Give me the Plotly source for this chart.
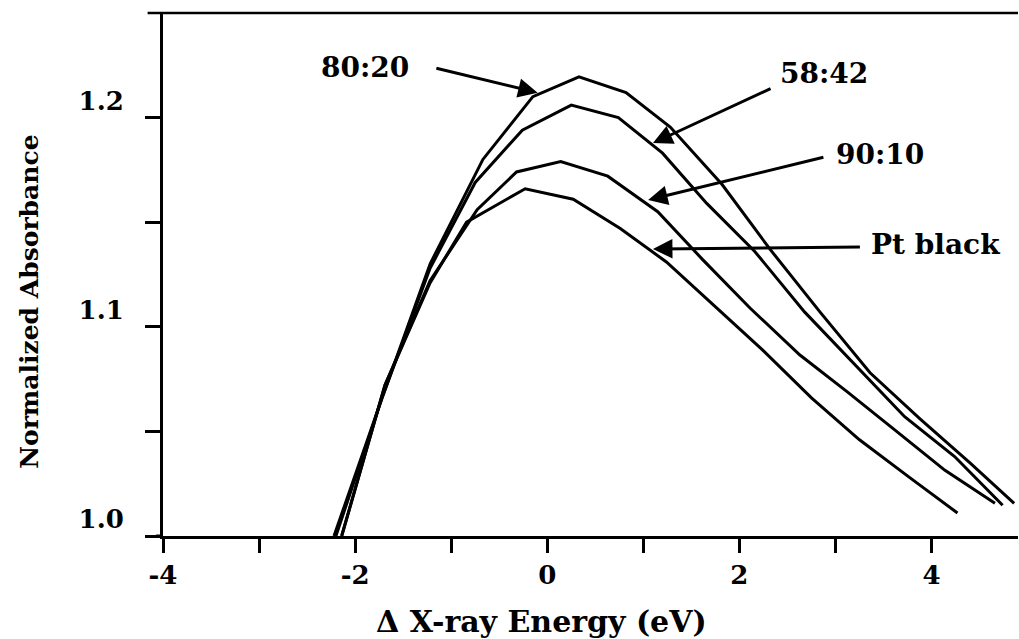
import plotly.graph_objects as go

# Data
x_8020 = [-2.22, -1.72, -1.22, -0.67, -0.15, 0.33, 0.82, 1.28, 1.82, 2.32, 2.84, 3.36, 3.88, 4.40, 4.86]
y_8020 = [1.000, 1.066, 1.130, 1.180, 1.210, 1.2195, 1.212, 1.1955, 1.168, 1.137, 1.107, 1.078, 1.056, 1.035, 1.0156]

x_5842 = [-2.20, -1.72, -1.22, -0.75, -0.26, 0.25, 0.74, 1.20, 1.66, 2.16, 2.68, 3.18, 3.72, 4.24, 4.74]
y_5842 = [1.000, 1.066, 1.128, 1.169, 1.194, 1.206, 1.200, 1.183, 1.159, 1.136, 1.107, 1.083, 1.057, 1.038, 1.0147]

x_9010 = [-2.14, -1.69, -1.22, -0.73, -0.32, 0.14, 0.63, 1.15, 1.62, 2.11, 2.63, 3.12, 3.62, 4.14, 4.66]
y_9010 = [1.000, 1.072, 1.122, 1.156, 1.174, 1.179, 1.172, 1.155, 1.132, 1.109, 1.0865, 1.069, 1.0506, 1.0314, 1.0156]

x_pt = [-2.14, -1.69, -1.22, -0.84, -0.23, 0.27, 0.76, 1.24, 1.74, 2.24, 2.75, 3.25, 3.77, 4.27]
y_pt = [1.000, 1.072, 1.121, 1.150, 1.166, 1.161, 1.147, 1.131, 1.110, 1.089, 1.066, 1.046, 1.028, 1.011]

series = [("80:20", x_8020, y_8020), ("58:42", x_5842, y_5842),
          ("90:10", x_9010, y_9010), ("Pt black", x_pt, y_pt)]

x_tickvals = [-4, -3, -2, -1, 0, 1, 2, 3, 4]
x_ticktext = ["-4", "", "-2", "", "0", "", "2", "", "4"]
y_tickvals = [1.0, 1.05, 1.1, 1.15, 1.2]
y_ticktext = ["1.0", "", "1.1", "", "1.2"]

# label text positions (data) and arrow tail/head positions (data)
labels = {
    "80:20":    dict(tx=-1.90, ty=1.2238, ax=-1.17, ay=1.2238, hx=-0.10, hy=1.2119),
    "58:42":    dict(tx=2.88, ty=1.2209, ax=2.34, ay=1.2142, hx=1.10, hy=1.1878),
    "90:10":    dict(tx=3.46, ty=1.1822, ax=2.89, ay=1.1812, hx=1.05, hy=1.1606),
    "Pt black": dict(tx=4.04, ty=1.1395, ax=3.27, ay=1.1381, hx=1.10, hy=1.1372),
}

FONT = "DejaVu Serif"

fig = go.Figure()
for name, xs, ys in series:
    fig.add_trace(go.Scatter(x=xs, y=ys, mode="lines", name=name,
                             line=dict(color="black", width=3),
                             showlegend=False))

annotations = []
for name, p in labels.items():
    annotations.append(dict(x=p["tx"], y=p["ty"], xref="x", yref="y", text=name,
                            showarrow=False, xanchor="center", yanchor="middle",
                            font=dict(family=FONT, size=28, color="black", weight="bold")))
    annotations.append(dict(x=p["hx"], y=p["hy"], ax=p["ax"], ay=p["ay"],
                            xref="x", yref="y", axref="x", ayref="y", text="",
                            showarrow=True, arrowhead=2, arrowsize=1.3, arrowwidth=3,
                            arrowcolor="black", standoff=0, startstandoff=0))

annotations.append(dict(x=0.443, y=-0.164, xref="paper", yref="paper",
                        xanchor="center", yanchor="middle",
                        text="\u0394 X-ray Energy (eV)", showarrow=False,
                        font=dict(family=FONT, size=30, color="black", weight="bold")))
annotations.append(dict(x=-0.156, y=0.447, xref="paper", yref="paper",
                        xanchor="center", yanchor="middle",
                        text="Normalized Absorbance", showarrow=False, textangle=-90,
                        font=dict(family=FONT, size=25, color="black", weight="bold")))

fig.update_layout(
    width=1019, height=639,
    margin=dict(l=163, r=1, t=13, b=103),
    paper_bgcolor="white", plot_bgcolor="white",
    annotations=annotations,
    shapes=[dict(type="line", xref="paper", yref="paper", x0=-0.018, x1=1, y0=1, y1=1,
                 line=dict(color="black", width=2.5)),
            dict(type="line", xref="paper", yref="paper", x0=-0.008, x1=0, y0=0, y1=0,
                 line=dict(color="black", width=3))],
    xaxis=dict(range=[-4, 4.9], tickvals=x_tickvals, ticktext=x_ticktext,
               ticks="outside", ticklen=14, tickwidth=3, tickcolor="black",
               showline=True, linecolor="black", linewidth=3,
               showgrid=False, zeroline=False,
               tickfont=dict(family=FONT, size=26, color="black", weight="bold")),
    yaxis=dict(range=[1.0, 1.25], tickvals=y_tickvals, ticktext=y_ticktext,
               ticks="outside", ticklen=15, tickwidth=3, tickcolor="black",
               showline=True, linecolor="black", linewidth=3,
               showgrid=False, zeroline=False, ticklabelshift=-17,
               ticklabelstandoff=16,
               tickfont=dict(family=FONT, size=26, color="black", weight="bold")),
)

fig.write_html("out.html", config={"displayModeBar": False},
               post_script="document.body.style.margin='0';")
